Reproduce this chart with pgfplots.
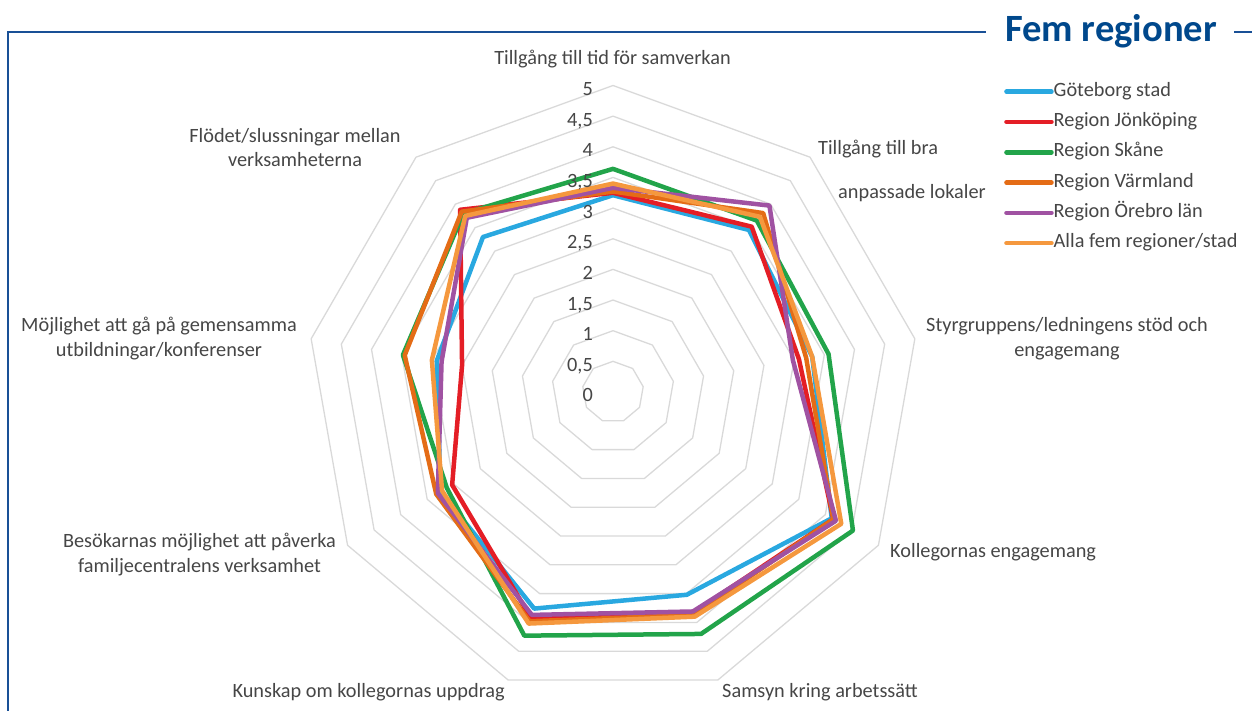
\documentclass[border=0pt]{standalone}
\usepackage{fontspec}
\setmainfont{Carlito}
\usepackage{pgfplots}
\pgfplotsset{compat=1.18}
\usepgfplotslibrary{polar}
\definecolor{cBlue}{RGB}{41,168,224}
\definecolor{cRed}{RGB}{228,30,38}
\definecolor{cGreen}{RGB}{34,164,74}
\definecolor{cDOrange}{RGB}{228,108,22}
\definecolor{cPurple}{RGB}{160,82,162}
\definecolor{cLOrange}{RGB}{245,152,62}
\definecolor{titleblue}{RGB}{0,72,140}
\definecolor{frameblue}{RGB}{25,80,150}
\definecolor{gridgray}{RGB}{217,217,217}
\definecolor{txt}{RGB}{70,70,70}
\newcommand{\lbl}{\fontsize{20.3}{24}\selectfont}
\begin{document}
\begin{tikzpicture}[x=1pt,y=1pt]
\useasboundingbox (0,0) rectangle (1252,711);
\draw[frameblue, line width=1.6pt] (8,0) -- (8,679) -- (986,679);
\draw[frameblue, line width=1.6pt] (1234,679) -- (1252,679);
\node[anchor=base west, inner sep=0pt, text=titleblue, font=\fontsize{38.6}{40}\selectfont\bfseries] at (1005,669) {Fem regioner};

\begin{scope}[every node/.style={text=txt, font=\lbl, inner sep=0pt, yshift=-4.5pt}]
\node[anchor=mid] at (612.5,653) {Tillgång till tid för samverkan};
\node[anchor=mid west] at (818,563) {Tillgång till bra};
\node[anchor=mid west] at (838,519) {anpassade lokaler};
\node[anchor=mid] at (1067,386) {Styrgruppens/ledningens stöd och};
\node[anchor=mid] at (1067,361) {engagemang};
\node[anchor=mid west] at (890,160) {Kollegornas engagemang};
\node[anchor=mid west] at (722,20) {Samsyn kring arbetssätt};
\node[anchor=mid east] at (505,20) {Kunskap om kollegornas uppdrag};
\node[anchor=mid] at (199.5,170) {Besökarnas möjlighet att påverka};
\node[anchor=mid] at (199.5,145) {familjecentralens verksamhet};
\node[anchor=mid] at (159,386) {Möjlighet att gå på gemensamma};
\node[anchor=mid] at (159,361) {utbildningar/konferenser};
\node[anchor=mid] at (295,575) {Flödet/slussningar mellan};
\node[anchor=mid] at (295,551) {verksamheterna};
\end{scope}

\begin{polaraxis}[
  at={(613pt,319pt)}, anchor=center,
  width=613pt, height=613pt, scale only axis,
  xmin=0, xmax=360, ymin=0, ymax=5,
  hide axis, clip=false,
  every axis plot/.append style={line width=4.5pt, line join=round, line cap=round},
  legend style={at={(1.133,1.009)}, anchor=north west, draw=none, fill=none,
    font=\lbl, text=txt, row sep=11.3pt,
    nodes={inner sep=0pt, text height=14pt, text depth=5pt}},
  legend cell align=left,
  legend image code/.code={\draw[#1, line width=4.5pt, line cap=round] (0pt,0pt) -- (45pt,0pt);},
  /tikz/every even column/.append style={column sep=6.5pt},
]
\pgfplotsinvokeforeach{0.5,1,1.5,2,2.5,3,3.5,4,4.5,5}{
  \addplot[gridgray, line width=1.3pt, forget plot] coordinates {(90,#1) (50,#1) (10,#1) (330,#1) (290,#1) (250,#1) (210,#1) (170,#1) (130,#1) (90,#1)};
}
% axes order: 90 Tid, 50 Lokaler, 10 Styrgrupp, 330 Kollegor, 290 Samsyn, 250 Kunskap, 210 Besokare, 170 Utbildning, 130 Flodet
\addplot[cBlue] coordinates {(90,3.21) (50,3.45) (10,3.30) (330,4.12) (290,3.52) (250,3.76) (210,3.25) (170,2.92) (130,3.30) (90,3.21)};
\addlegendentry{Göteborg stad}
\addplot[cRed] coordinates {(90,3.25) (50,3.52) (10,3.08) (330,4.15) (290,3.83) (250,3.92) (210,3.03) (170,2.50) (130,3.88) (90,3.25)};
\addlegendentry{Region Jönköping}
\addplot[cGreen] coordinates {(90,3.64) (50,3.65) (10,3.57) (330,4.52) (290,4.20) (250,4.23) (210,3.13) (170,3.48) (130,3.80) (90,3.64)};
\addlegendentry{Region Skåne}
\addplot[cDOrange] coordinates {(90,3.27) (50,3.81) (10,3.20) (330,4.15) (290,3.87) (250,3.98) (210,3.33) (170,3.45) (130,3.84) (90,3.27)};
\addlegendentry{Region Värmland}
\addplot[cPurple] coordinates {(90,3.33) (50,3.97) (10,2.98) (330,4.20) (290,3.81) (250,3.87) (210,3.30) (170,2.84) (130,3.71) (90,3.33)};
\addlegendentry{Region Örebro län}
\addplot[cLOrange] coordinates {(90,3.40) (50,3.73) (10,3.30) (330,4.30) (290,3.90) (250,4.02) (210,3.22) (170,3.00) (130,3.75) (90,3.40)};
\addlegendentry{Alla fem regioner/stad}

\begin{scope}[every node/.style={anchor=east, text=txt, font=\lbl, inner sep=0pt, text height=13pt, text depth=0pt, xshift=-20pt, yshift=-3.5pt}]
\node at (axis cs:90,0) {0};
\node at (axis cs:90,0.5) {0,5};
\node at (axis cs:90,1) {1};
\node at (axis cs:90,1.5) {1,5};
\node at (axis cs:90,2) {2};
\node at (axis cs:90,2.5) {2,5};
\node at (axis cs:90,3) {3};
\node at (axis cs:90,3.5) {3,5};
\node at (axis cs:90,4) {4};
\node at (axis cs:90,4.5) {4,5};
\node at (axis cs:90,5) {5};
\end{scope}
\end{polaraxis}
\end{tikzpicture}
\end{document}
